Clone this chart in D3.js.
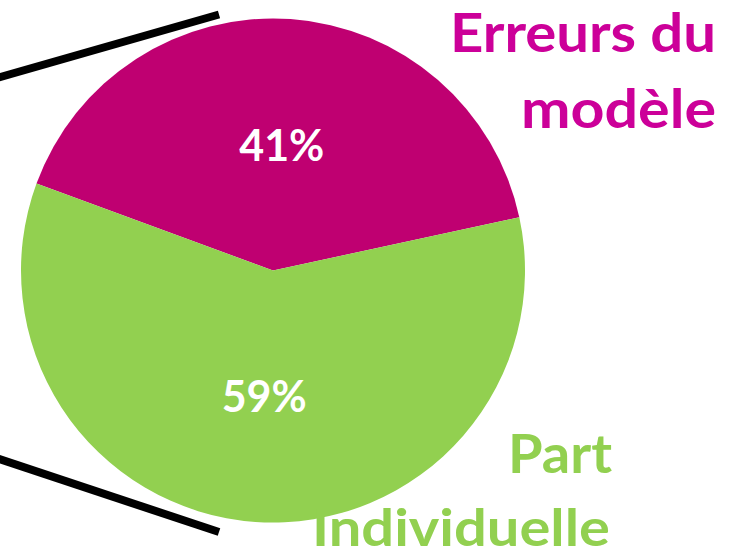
<!DOCTYPE html>
<html>
<head>
<meta charset="utf-8">
<script src="https://cdn.jsdelivr.net/npm/d3@7"></script>
<style>
  body { margin: 0; background: #fff; }
  svg { display: block; }
</style>
</head>
<body>
<div id="chart"></div>
<script>
// data
const categories = ["Erreurs du modèle", "Part individuelle"];
const values = [41, 59];
const sliceColors = ["#BF0071", "#92D050"];
const labelColors = ["#CC0099", "#92D050"];

const width = 735, height = 556;
const cx = 273, cy = 270.5, radius = 252;

const svg = d3.select("#chart")
    .append("svg")
    .attr("width", width)
    .attr("height", height);

// zoom lines coming from the left
const zoomLines = [
    [[-10, 80], [219, 14.5]],
    [[-10, 456], [219, 532]]
];
svg.selectAll("line.zoom")
    .data(zoomLines)
    .enter()
    .append("line")
    .attr("class", "zoom")
    .attr("x1", d => d[0][0])
    .attr("y1", d => d[0][1])
    .attr("x2", d => d[1][0])
    .attr("y2", d => d[1][1])
    .attr("stroke", "#000")
    .attr("stroke-width", 8);

const color = d3.scaleOrdinal().domain(categories).range(sliceColors);

const startA = -69.8 * Math.PI / 180;
const pie = d3.pie()
    .sort(null)
    .startAngle(startA)
    .endAngle(startA + 2 * Math.PI);

const arc = d3.arc().innerRadius(0).outerRadius(radius);

const g = svg.append("g").attr("transform", `translate(${cx}, ${cy})`);

const arcs = pie(values);

g.selectAll("path")
    .data(arcs)
    .enter()
    .append("path")
    .attr("d", arc)
    .attr("fill", (d, i) => color(categories[i]));

// percentage labels
const total = d3.sum(values);
g.selectAll("text.pct")
    .data(arcs)
    .enter()
    .append("text")
    .attr("class", "pct")
    .attr("x", d => arc.centroid(d)[0])
    .attr("y", d => arc.centroid(d)[1] + 16)
    .attr("text-anchor", "middle")
    .style("font-family", "Lato, 'Open Sans', sans-serif")
    .style("font-weight", "bold")
    .style("font-size", "43px")
    .attr("fill", "#fff")
    .text(d => Math.round(d.value / total * 100) + "%");

// category labels (right side, two lines each)
const labelLines = [
    ["Erreurs du", "modèle"],
    ["Part", "Individuelle"]
];
const labelBoxes = [
    [{ right: 716, y: 52, w: 266, fs: 54 }, { right: 716, y: 128, w: 195, fs: 54 }],
    [{ right: 612, y: 473, w: 104, fs: 54 }, { right: 610, y: 546, w: 298, fs: 52 }]
];

labelLines.forEach((lines, i) => {
    lines.forEach((t, j) => {
        const b = labelBoxes[i][j];
        svg.append("text")
            .attr("x", b.right - b.w)
            .attr("y", b.y)
            .attr("textLength", b.w)
            .attr("lengthAdjust", "spacingAndGlyphs")
            .style("font-family", "Lato, 'Open Sans', sans-serif")
            .style("font-weight", "bold")
            .style("font-size", b.fs + "px")
            .attr("fill", labelColors[i])
            .text(t);
    });
});
</script>
</body>
</html>
